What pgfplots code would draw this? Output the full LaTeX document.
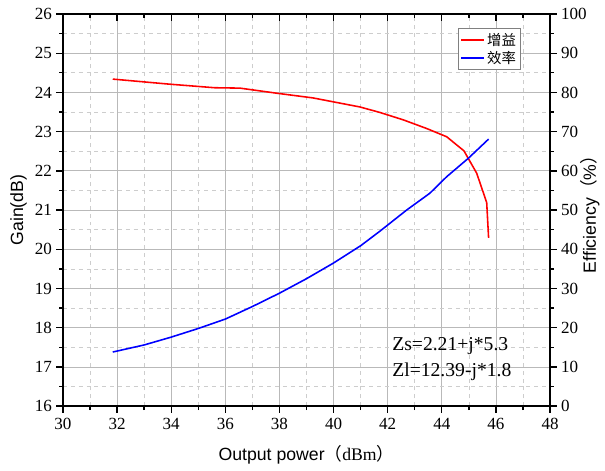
\documentclass[border=0pt]{standalone}
\usepackage{fontspec}
\usepackage{pgfplots}
\pgfplotsset{compat=1.18}
\setmainfont{Liberation Serif}
\setsansfont{Liberation Sans}
\newfontfamily\cjk{Noto Sans CJK SC}
\newfontfamily\tickfont{Liberation Serif}

\definecolor{majgrid}{RGB}{185,185,185}
\definecolor{mingrid}{RGB}{205,205,205}

\pgfplotsset{
  common/.style={
    scale only axis,
    width=372pt, height=299.5pt,
    at={(0,0)}, anchor=south west,
    xmin=30, xmax=48,
    axis line style={line width=1.2pt},
    tick style={line width=1pt, black},
    major tick length=5pt,
    minor tick length=3pt,
    tick label style={font=\fontsize{13}{15}\selectfont},
    xticklabel={\tickfont\pgfmathprintnumber[assume math mode=true]{\tick}},
    yticklabel={\tickfont\pgfmathprintnumber[assume math mode=true]{\tick}},
  }
}

\begin{document}
\begin{tikzpicture}
% gain, left axis
\begin{axis}[
  common,
  ymin=16, ymax=26,
  xtick={30,32,...,48}, minor xtick={31,33,...,47},
  ytick={16,...,26}, minor ytick={16.5,17.5,...,25.5},
  xtick pos=bottom, ytick pos=left,
  tick align=outside,
  xticklabel style={yshift=-1pt},
  grid=both,
  major grid style={majgrid, line width=0.6pt},
  minor grid style={mingrid, dashed, line width=0.5pt},
  xlabel={\sffamily Output power{\cjk （}\rmfamily dBm{\cjk ）}},
  ylabel={\sffamily Gain(dB)},
  every axis x label/.style={at={(axis description cs:0.5,0)}, yshift=-37.4pt,
    anchor=center, font=\fontsize{13.5}{15}\selectfont},
  every axis y label/.style={at={(axis description cs:0,0.5)}, xshift=-34pt,
    anchor=center, rotate=90, font=\fontsize{13.5}{15}\selectfont},
  legend style={at={(0.94,0.964)}, anchor=north east, draw=gray,
    font=\cjk\fontsize{11}{13}\selectfont, inner sep=1.5pt,
    row sep=-1pt, cells={anchor=west}},
  legend image post style={line width=1.5pt},
  legend cell align=left,
]
\addplot[red, line width=1.2pt] coordinates {
(31.84,24.34) (33.95,24.21) (35.60,24.12) (36.54,24.11) (37.90,23.98)
(39.24,23.86) (40.97,23.63) (41.71,23.49) (42.58,23.30) (43.44,23.08)
(44.18,22.87) (44.82,22.51) (45.29,21.94) (45.66,21.19) (45.73,20.29)
};
\addlegendentry{增益}
\addlegendimage{blue, line width=1.2pt}
\addlegendentry{效率}
\node[anchor=west, font=\fontsize{15}{17}\selectfont] at (axis cs:42.0,17.53) {Zs=2.21+j*5.3};
\node[anchor=west, font=\fontsize{15}{17}\selectfont] at (axis cs:42.0,16.87) {Zl=12.39-j*1.8};
\end{axis}

% top ticks pointing inward
\begin{axis}[
  common,
  ymin=16, ymax=26,
  hide y axis,
  axis x line*=top,
  xtick={30,32,...,48}, minor xtick={31,33,...,47},
  xticklabels={},
  tick align=inside,
]
\end{axis}

% efficiency, right axis
\begin{axis}[
  common,
  ymin=0, ymax=100,
  hide x axis,
  axis y line*=right,
  ytick={0,10,...,100}, minor ytick={5,15,...,95},
  tick align=outside,
  ylabel={\sffamily Efficiency{\cjk （}\%{\cjk ）}},
  every axis y label/.style={at={(axis description cs:1,0.5)}, xshift=30.6pt,
    anchor=center, rotate=90, font=\fontsize{13.5}{15}\selectfont},
]
\addplot[blue, line width=1.2pt] coordinates {
(31.84,13.8) (33.00,15.6) (34.00,17.6) (35.00,19.8) (36.00,22.2)
(37.00,25.4) (38.00,28.8) (39.00,32.5) (40.00,36.5) (41.00,40.9)
(41.71,44.6) (42.70,50.0) (43.56,54.3) (44.18,58.5) (44.98,63.2)
(45.73,68.1)
};
\end{axis}
\pgfresetboundingbox
\path (-48.1pt,-48.9pt) rectangle (414pt,310.2pt);
\end{tikzpicture}
\end{document}
